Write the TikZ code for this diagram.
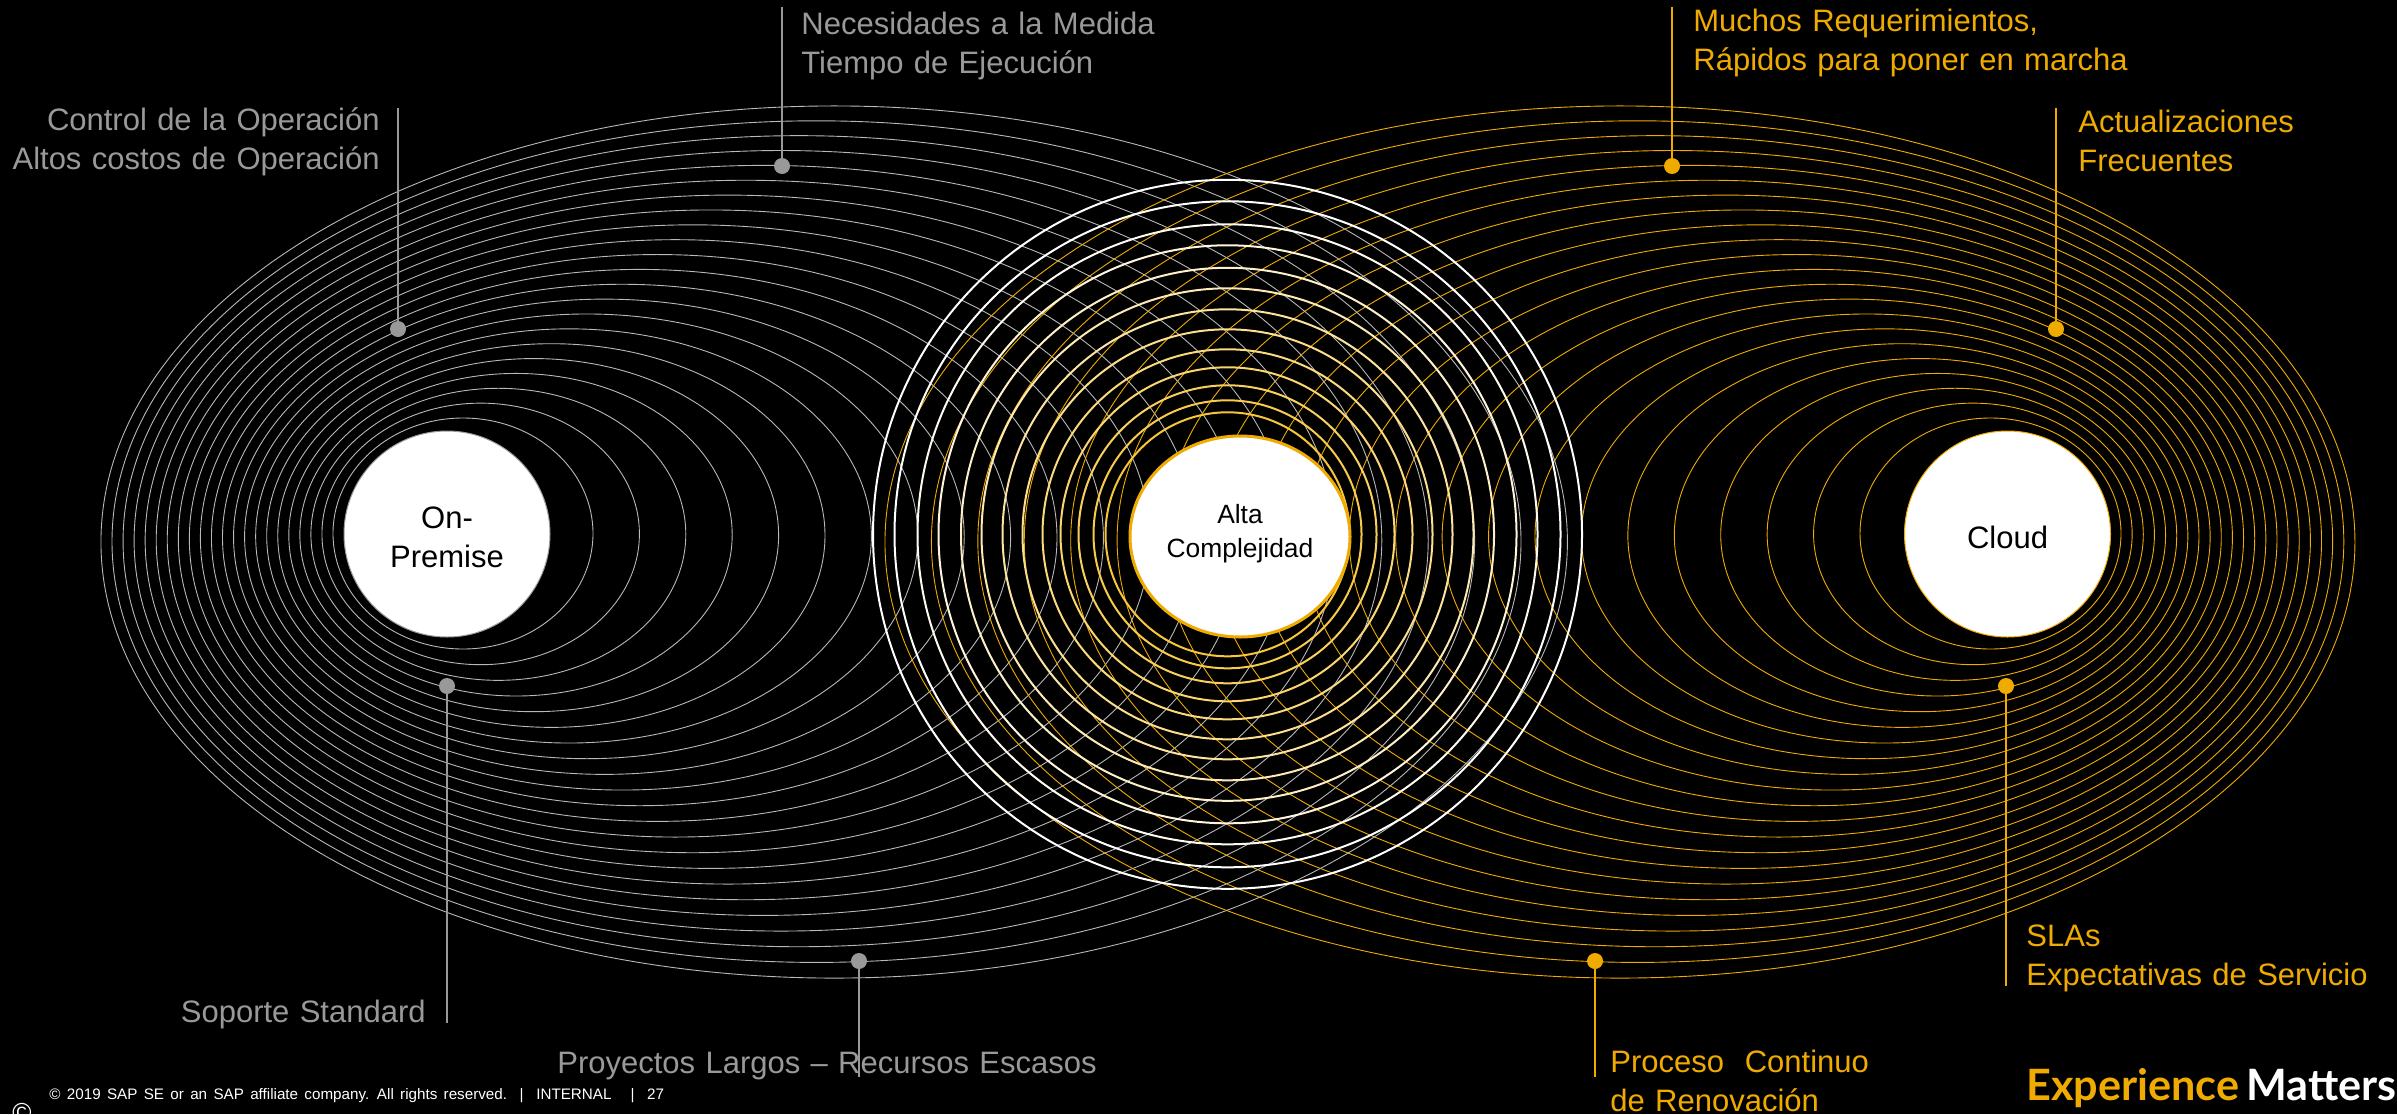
\documentclass[tikz,border=0pt]{standalone}
\usepackage{fontspec}
\usetikzlibrary{shapes.geometric}
\setmainfont[WordSpace=1.2]{Liberation Sans}
\newfontfamily\logofont{Lato}
\newfontfamily\footfont[WordSpace=1.5]{Liberation Sans}
\definecolor{sapgold}{HTML}{F0AB00}
\definecolor{midgold}{HTML}{F9C63A}
\definecolor{sapgrey}{HTML}{999999}
\newcommand\hubtext[2]{\raisebox{#1}[0pt][0pt]{\begin{tabular}{@{}c@{}}#2\end{tabular}}}
\tikzset{
  ringgrey/.style={draw=white!72!black, line width=.45pt},
  ringgold/.style={draw=sapgold, line width=.45pt},
  greyline/.style={draw=sapgrey, line width=1.4pt},
  goldline/.style={draw=sapgold, line width=1.4pt},
  greydot/.style={circle, fill=sapgrey, inner sep=0pt, minimum size=8pt},
  golddot/.style={circle, fill=sapgold, inner sep=0pt, minimum size=8pt},
  label/.style={font=\fontsize{15.5}{19.5}\selectfont, inner sep=0pt},
  hub/.style={circle, fill=white, text=black, inner sep=0pt, minimum size=103pt,
    font=\fontsize{15.5}{19.5}\selectfont}
}
\begin{document}
\begin{tikzpicture}[x=.5pt,y=-.5pt]

  \path[fill=black, use as bounding box] (0,0) rectangle (2397,1114);

  % outer ring sets
  \foreach \i in {0,...,21} {
    \pgfmathsetmacro\lft{333-11.05*\i}
    \pgfmathsetmacro\rgt{593+46.4*\i}
    \pgfmathsetmacro\tp{418-14.86*\i}
    \pgfmathsetmacro\bt{649+15.67*\i}
    \draw[ringgrey] ({(\lft+\rgt)/2},{(\tp+\bt)/2}) ellipse [x radius={(\rgt-\lft)/2}, y radius={(\bt-\tp)/2}];
    \pgfmathsetmacro\lft{1860-46.43*\i}
    \pgfmathsetmacro\rgt{2121+11.14*\i}
    \draw[ringgold] ({(\lft+\rgt)/2},{(\tp+\bt)/2}) ellipse [x radius={(\rgt-\lft)/2}, y radius={(\bt-\tp)/2}];
  }

  % middle rings, white to gold
  \foreach \r/\mix in {354.5/0,333/0,310/8,289/18,266.5/28,246/38,225/48,205/58,185/66,167/74,149/82,134/92,122/100} {
    \draw[draw=midgold!\mix!white, line width=1pt] (1227.5,534.3) circle [radius=\r];
  }

  \node[hub, draw=sapgrey, line width=.5pt] (onprem) at (447,534) {\hubtext{-6.9pt}{On-\\Premise}};
  \node[hub, draw=sapgold, line width=.5pt] (cloud) at (2007.5,534) {\hubtext{-6.9pt}{Cloud}};
  \node[hub, ellipse, draw=sapgold, line width=1.5pt, minimum width=110pt, minimum height=100.5pt,
    font=\fontsize{13.2}{17}\selectfont] (alta) at (1240,536.5) {\hubtext{-1.8pt}{Alta\\Complejidad}};

  \begin{scope}[every node/.style={greydot}]
    \node (dotcontrol) at (398,329) {};
    \node (dotmedida)  at (782,166) {};
    \node (dotsoporte) at (447,686) {};
    \node (dotlargos)  at (859,961) {};
  \end{scope}
  \begin{scope}[every node/.style={golddot}]
    \node (dotmuchos) at (1672,166) {};
    \node (dotfrec)   at (2056,329) {};
    \node (dotsla)    at (2006,686) {};
    \node (dotreno)   at (1595,961) {};
  \end{scope}

  \coordinate (endcontrol) at (398,108);
  \coordinate (endmedida)  at (782,7);
  \coordinate (endsoporte) at (447,1023);
  \coordinate (endlargos)  at (859,1077);
  \coordinate (endmuchos)  at (1672,7);
  \coordinate (endfrec)    at (2056,108);
  \coordinate (endsla)     at (2006,986);
  \coordinate (endreno)    at (1595,1077);

  \path (dotcontrol) edge[greyline] (endcontrol);
  \path (dotmedida)  edge[greyline] (endmedida);
  \path (dotsoporte) edge[greyline] (endsoporte);
  \path (dotlargos)  edge[greyline] (endlargos);
  \path (dotmuchos)  edge[goldline] (endmuchos);
  \path (dotfrec)    edge[goldline] (endfrec);
  \path (dotsla)     edge[goldline] (endsla);
  \path (dotreno)    edge[goldline] (endreno);

  \begin{scope}[every node/.style={label, text=sapgrey}]
    \node[anchor=east, align=right] (txtcontrol) at (380,142) {Control de la Operación\\Altos costos de Operación};
    \node[anchor=west, align=left]  (txtmedida)  at (801,46)  {Necesidades a la Medida\\Tiempo de Ejecución};
    \node[anchor=east] (txtsoporte) at (426,1014) {Soporte Standard};
    \node[anchor=west] (txtlargos)  at (557,1066) {Proyectos Largos -- Recursos Escasos};
  \end{scope}
  \begin{scope}[every node/.style={label, text=sapgold}]
    \node[anchor=west, align=left] (txtmuchos) at (1693,43)   {Muchos Requerimientos,\\Rápidos para poner en marcha};
    \node[anchor=west, align=left] (txtfrec)   at (2078,141)  {Actualizaciones\\Frecuentes};
    \node[anchor=west, align=left] (txtsla)    at (2026,958)  {SLAs\\Expectativas de Servicio};
    \node[anchor=west, align=left] (txtreno)   at (1610,1081) {Proceso\ \ Continuo\\de Renovación};
  \end{scope}

  \node[anchor=west, inner sep=0pt, text=white, font=\footfont\fontsize{7.6}{9}\selectfont] (footer) at (49,1096)
    {© 2019 SAP SE or an SAP affiliate company. All rights reserved.\ \ |\ \ INTERNAL\ \ \ |\ \ 27};
  \node[inner sep=0pt, text=white, font=\fontsize{13}{14}\selectfont] (copymark) at (22,1113) {©};
  \node[anchor=west, inner sep=0pt, font=\logofont\bfseries\fontsize{21.6}{22}\selectfont] (logo) at (2026,1088)
    {\textcolor{sapgold}{Experience}\hspace{3.5pt}\textcolor{white}{Matters}};

\end{tikzpicture}
\end{document}
